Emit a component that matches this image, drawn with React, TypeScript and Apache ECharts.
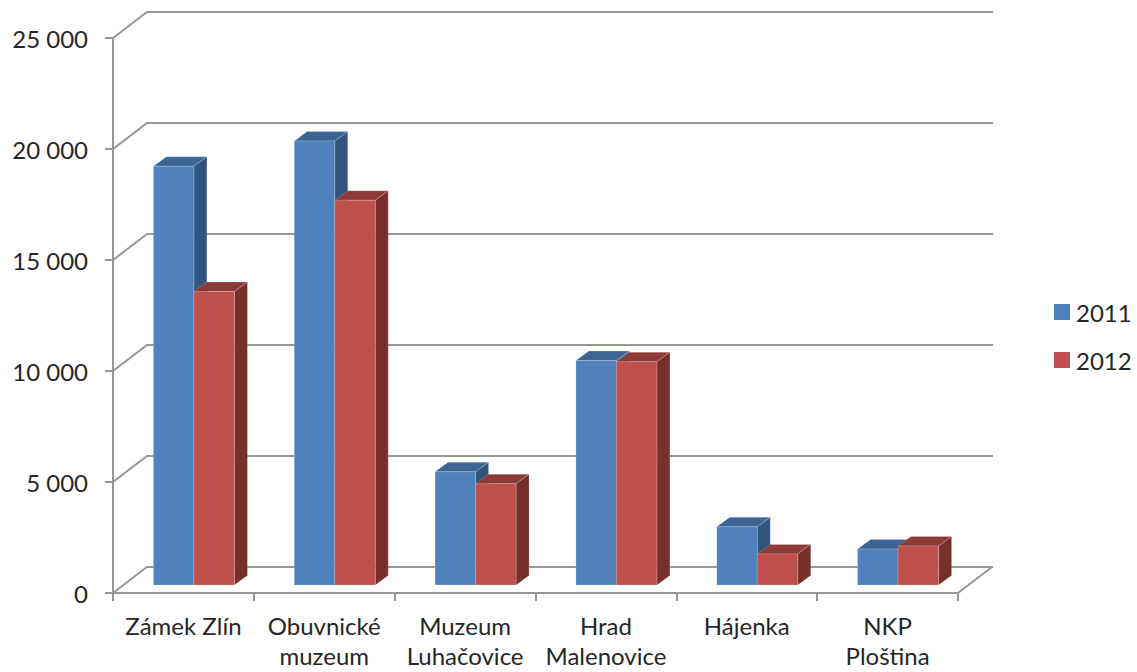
import React, { useEffect, useRef } from "react";
import * as echarts from "echarts";

const categories = ["Zámek Zlín", "Obuvnické\nmuzeum", "Muzeum\nLuhačovice", "Hrad\nMalenovice", "Hájenka", "NKP\nPloština"];
const values2011 = [18860, 20000, 5100, 10110, 2620, 1620];
const values2012 = [13220, 17330, 4560, 10060, 1400, 1760];
const wallTicks = [0, 5000, 10000, 15000, 20000, 25000];

const GRAY = "#969696";
const TEXT = "#262626";
const FONT = "Lato";
const DEPTH_X = 34, DEPTH_Y = 26;
const BAR_SHIFT_X = 10.5, BAR_SHIFT_Y = 8;
const BAR_DEPTH_X = 13, BAR_DEPTH_Y = 9.5;
const BAR_RATIO = 40.5 / 140.8;

function barItem(slot: number, front: string, top: string, side: string) {
  return (_params: any, api: any) => {
    const cat = api.value(0);
    const val = api.value(1);
    const w = api.size([1, 0])[0] * BAR_RATIO;
    const [cx, yTop0] = api.coord([cat, val]);
    const [, yBase0] = api.coord([cat, 0]);
    const x0 = cx + BAR_SHIFT_X + (slot - 1) * w;
    const x1 = x0 + w;
    const yT = yTop0 - BAR_SHIFT_Y;
    const yB = yBase0 - BAR_SHIFT_Y;
    const dx = BAR_DEPTH_X, dy = BAR_DEPTH_Y;
    const edge = { stroke: "rgba(255,255,255,0.18)", lineWidth: 1 };
    return {
      type: "group",
      children: [
        { type: "polygon", shape: { points: [[x0, yT], [x1, yT], [x1 + dx, yT - dy], [x0 + dx, yT - dy]] }, style: { fill: top, ...edge } },
        { type: "polygon", shape: { points: [[x1, yT], [x1 + dx, yT - dy], [x1 + dx, yB - dy], [x1, yB]] }, style: { fill: side, ...edge } },
        { type: "rect", shape: { x: x0, y: yT, width: w, height: yB - yT }, style: { fill: front, ...edge } },
      ],
    };
  };
}

function wallItem(_params: any, api: any) {
  const v = api.value(0);
  const half = api.size([1, 0])[0] / 2;
  const [c0, y] = api.coord([0, v]);
  const [c5] = api.coord([categories.length - 1, v]);
  const xL = c0 - half;
  const xR = c5 + half;
  const line = { stroke: GRAY, lineWidth: 2, fill: "none" };
  const children: any[] = [
    { type: "polyline", shape: { points: [[xL, y], [xL + DEPTH_X, y - DEPTH_Y], [xR + DEPTH_X + 1, y - DEPTH_Y]] }, style: line },
  ];
  if (v === 0) {
    children.push({ type: "polyline", shape: { points: [[xR, y], [xR + DEPTH_X, y - DEPTH_Y]] }, style: line });
  }
  return { type: "group", children };
}

export default function App() {
  const ref = useRef<HTMLDivElement>(null);
  useEffect(() => {
    document.body.style.margin = "0";
    const chart = echarts.init(ref.current!, undefined, { renderer: "svg" });
    chart.setOption({
      animation: false,
      backgroundColor: "#fff",
      grid: { left: 113, right: 179, top: 38, bottom: 79, containLabel: false },
      legend: {
        orient: "vertical",
        left: 1049,
        top: 295,
        icon: "rect",
        itemWidth: 16,
        itemHeight: 16,
        itemGap: 24,
        data: ["2011", "2012"],
        textStyle: { fontFamily: FONT, fontSize: 24, color: TEXT, padding: [0, 0, 0, 1] },
      },
      xAxis: {
        type: "category",
        data: categories,
        boundaryGap: true,
        axisLine: { lineStyle: { color: GRAY, width: 2 } },
        axisTick: { show: true, length: 8, alignWithLabel: false, lineStyle: { color: GRAY, width: 2 } },
        axisLabel: { interval: 0, margin: 17, fontFamily: FONT, fontSize: 24, lineHeight: 30, color: TEXT },
      },
      yAxis: {
        type: "value",
        min: 0,
        max: 25000,
        interval: 5000,
        axisLine: { show: true, lineStyle: { color: GRAY, width: 2 } },
        axisTick: { show: true, length: 8, lineStyle: { color: GRAY, width: 2 } },
        splitLine: { show: false },
        axisLabel: {
          margin: 25,
          fontFamily: FONT,
          fontSize: 24,
          color: TEXT,
          formatter: (v: number) => (v === 0 ? "0" : `${v / 1000} 000`),
        },
      },
      series: [
        {
          type: "custom",
          name: "wall",
          z: 1,
          clip: false,
          silent: true,
          coordinateSystem: "cartesian2d",
          renderItem: wallItem,
          encode: { y: 0 },
          data: wallTicks.map((v) => [v]),
        },
        {
          type: "custom",
          name: "2011",
          z: 2,
          clip: false,
          renderItem: barItem(0, "#4F81BD", "#3C6494", "#32557F"),
          itemStyle: { color: "#4F81BD" },
          encode: { x: 0, y: 1 },
          data: values2011.map((v, i) => [i, v]),
        },
        {
          type: "custom",
          name: "2012",
          z: 3,
          clip: false,
          renderItem: barItem(1, "#C0504D", "#8E3A38", "#772F2E"),
          itemStyle: { color: "#C0504D" },
          encode: { x: 0, y: 1 },
          data: values2012.map((v, i) => [i, v]),
        },
      ],
    });
    return () => chart.dispose();
  }, []);
  return <div ref={ref} style={{ position: "absolute", left: 0, top: 0, width: 1137, height: 672 }} />;
}
